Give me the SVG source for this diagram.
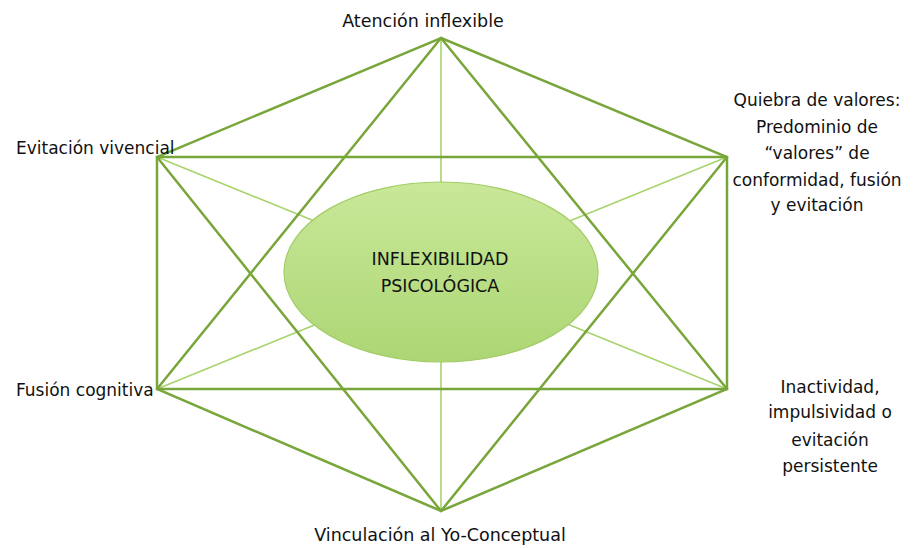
<svg xmlns="http://www.w3.org/2000/svg" width="913" height="548" viewBox="0 0 913 548">
<defs>
<linearGradient id="g" x1="0" y1="0" x2="0" y2="1">
<stop offset="0" stop-color="#c9e899"/>
<stop offset="1" stop-color="#acd674"/>
</linearGradient>
<style>
.d{stroke:#78a63a;stroke-width:2.5;fill:none;stroke-linecap:round}
.l{stroke:#a8d46c;stroke-width:1.6;fill:none}
text{font-family:"DejaVu Sans","Liberation Sans",sans-serif;font-size:17px;fill:#111}
.c{text-anchor:middle}
</style>
</defs>
<rect width="913" height="548" fill="#fff"/>
<g id="connectors">
<line class="l" x1="441" y1="38" x2="441" y2="511"/>
<line class="l" x1="157" y1="157" x2="727" y2="389"/>
<line class="l" x1="727" y1="157" x2="157" y2="389"/>
<polygon class="d" points="441,38 727,157 727,389 441,511 157,389 157,157"/>
<line class="d" x1="157" y1="157" x2="727" y2="157"/>
<line class="d" x1="157" y1="389" x2="727" y2="389"/>
<line class="d" x1="441" y1="38" x2="157" y2="389"/>
<line class="d" x1="441" y1="38" x2="727" y2="389"/>
<line class="d" x1="441" y1="511" x2="157" y2="157"/>
<line class="d" x1="441" y1="511" x2="727" y2="157"/>
</g>
<g id="center">
<ellipse cx="441" cy="272" rx="157" ry="90" fill="url(#g)" stroke="#a3cd66" stroke-width="1.2"/>
<text class="c" x="440" y="265" style="font-size:17.5px">INFLEXIBILIDAD</text>
<text class="c" x="440" y="292" style="font-size:17.5px">PSICOLÓGICA</text>
</g>
<g id="n-top"><text class="c" x="423" y="27" style="font-size:17.5px">Atención inflexible</text></g>
<g id="n-ul"><text x="16" y="154">Evitación vivencial</text></g>
<g id="n-ur">
<text class="c" x="817" y="106">Quiebra de valores:</text>
<text class="c" x="817" y="133">Predominio de</text>
<text class="c" x="817" y="159">“valores” de</text>
<text class="c" x="817" y="186">conformidad, fusión</text>
<text class="c" x="817" y="211">y evitación</text>
</g>
<g id="n-ll"><text x="16" y="396">Fusión cognitiva</text></g>
<g id="n-lr">
<text class="c" x="830" y="393">Inactividad,</text>
<text class="c" x="830" y="418">impulsividad o</text>
<text class="c" x="830" y="446">evitación</text>
<text class="c" x="830" y="472">persistente</text>
</g>
<g id="n-bottom"><text class="c" x="440" y="541" style="font-size:17.5px">Vinculación al Yo-Conceptual</text></g>
</svg>
